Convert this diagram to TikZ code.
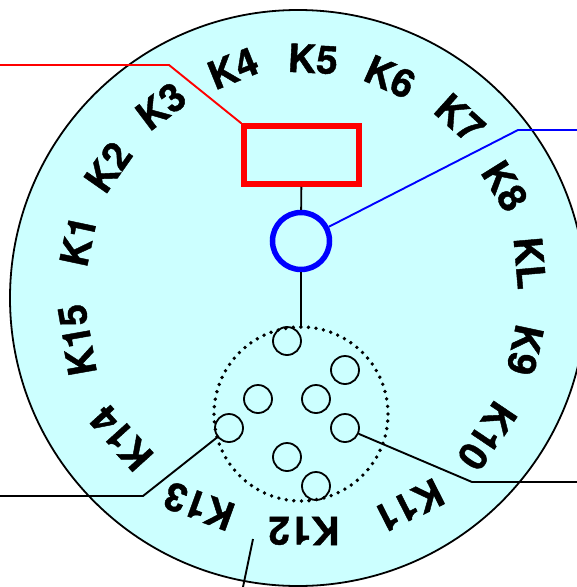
\documentclass[tikz,border=0pt]{standalone}
\usepackage{fontspec}
\newfontfamily\keyfont[FakeBold=1.1]{TeX Gyre Heros Bold}
\usepackage{tikz}
\usetikzlibrary{positioning}
\definecolor{platecyan}{HTML}{CCFFFF}
\definecolor{wirered}{HTML}{FF0000}
\definecolor{wireblue}{HTML}{0000FF}

\begin{document}
\begin{tikzpicture}[
  x=1pt, y=-1pt,
  plate/.style={draw, circle, line width=1.8pt, fill=platecyan, minimum size=576pt, inner sep=0pt},
  pin/.style={draw, circle, line width=1.8pt, minimum size=28pt, inner sep=0pt},
  key/.style={font=\fontsize{39}{39}\keyfont, inner sep=0pt, rotate=#1},
  wire/.style={line width=1.9pt, line join=round},
]
  \useasboundingbox (0,0) rectangle (577,587);

  \node[plate] (plate) at (298,298) {};

  % labels round the rim
  \node[key=-3]  (k5)  at (313,59)  {K5};
  \node[key=22]  (k4)  at (233,68)  {K4};
  \node[key=37]  (k3)  at (161,106) {K3};
  \node[key=55]  (k2)  at (108,167) {K2};
  \node[key=78]  (k1)  at (78,241)  {K1};
  \node[key=100] (k15) at (77,340)  {K15};
  \node[key=132] (k14) at (121,438) {K14};
  \node[key=160] (k13) at (199,506) {K13};
  \node[key=180] (k12) at (304,531) {K12};
  \node[key=207] (k11) at (409,506) {K11};
  \node[key=236] (k10) at (487,436) {K10};
  \node[key=258] (k9)  at (525,350) {K9};
  \node[key=-85] (kl)  at (530,263) {KL};
  \node[key=-58] (k8)  at (505,186) {K8};
  \node[key=-42] (k7)  at (460,118) {K7};
  \node[key=-24] (k6)  at (390,77)  {K6};

  \node[draw=wirered, line width=5.5pt, minimum width=115pt, minimum height=58pt, inner sep=0pt] (relay) at (301.5,155) {};
  \node[draw=wireblue, circle, line width=5.5pt, minimum size=57pt, inner sep=0pt] (ring) at (301,241) {};
  \node[circle, minimum size=174pt, inner sep=0pt, outer sep=0pt] (dial) at (301,414) {};
  \draw[line width=3.8pt, line cap=round, dash pattern=on 0pt off 7.6pt] (dial.center) circle (87pt);

  \node[pin] (pina) at (287,341) {};
  \node[pin] (pinb) at (345,370) {};
  \node[pin] (pinc) at (258,399) {};
  \node[pin] (pind) at (316,399) {};
  \node[pin] (pine) at (229,428) {};
  \node[pin] (pinf) at (345,428) {};
  \node[pin] (ping) at (287,457) {};
  \node[pin] (pinh) at (316,486) {};

  \coordinate (redend)    at (0,65);
  \coordinate (redbend)   at (169,65);
  \coordinate (blueend)   at (577,130);
  \coordinate (bluebend)  at (518,130);
  \coordinate (leftend)   at (0,496);
  \coordinate (leftbend)  at (143,496);
  \coordinate (rightend)  at (577,482);
  \coordinate (rightbend) at (472,482);
  \coordinate (lowtop)    at (253,539);
  \coordinate (lowend)    at (243,587);

  \draw[wire, wirered] (redend) -- (redbend) -- (relay.north west);
  \draw[wire, wireblue] (blueend) -- (bluebend) -- (ring);
  \draw[wire] (relay) -- (ring);
  \draw[wire] (ring) -- (dial.north);
  \draw[wire] (leftend) -- (leftbend) -- (pine);
  \draw[wire] (rightend) -- (rightbend) -- (pinf);
  \draw[wire] (lowtop) -- (lowend);
\end{tikzpicture}
\end{document}
